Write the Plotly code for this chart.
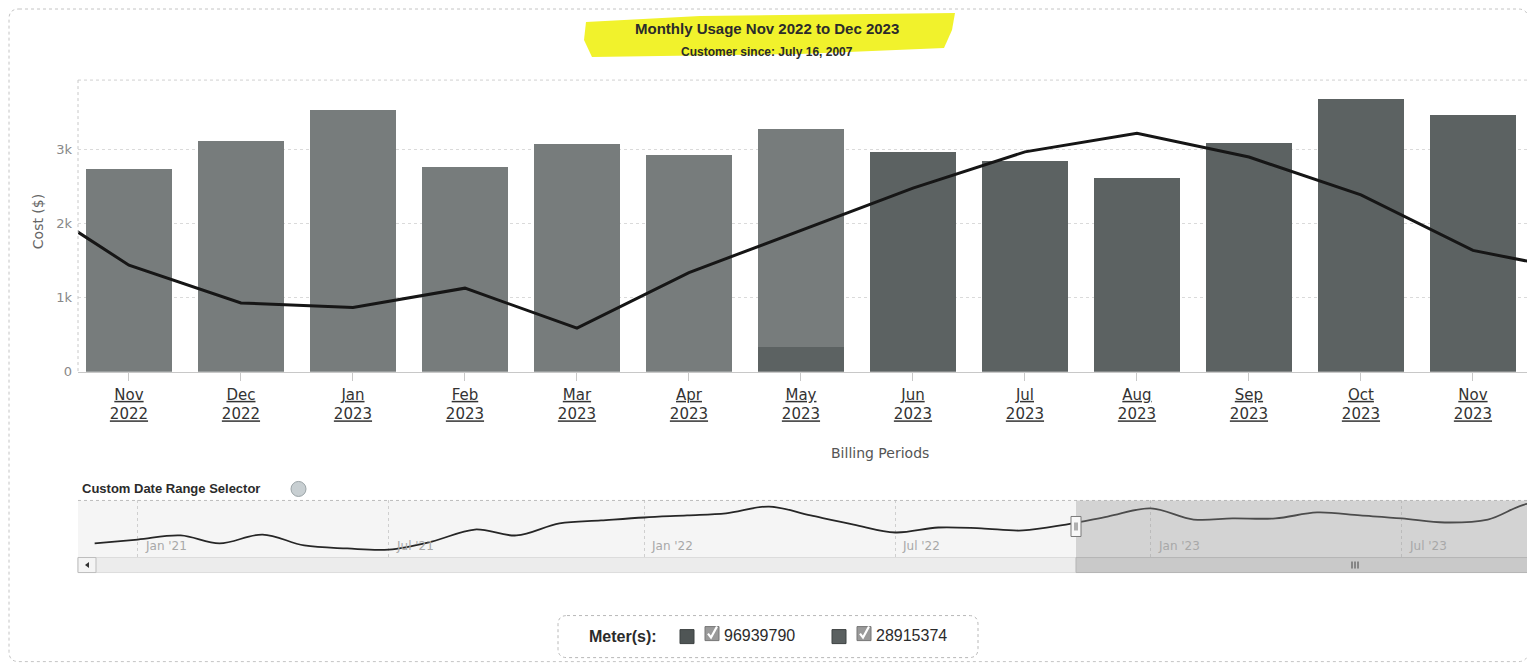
import plotly.graph_objects as go

# ---------------- data ----------------
months = ["Nov<br>2022", "Dec<br>2022", "Jan<br>2023", "Feb<br>2023", "Mar<br>2023", "Apr<br>2023",
          "May<br>2023", "Jun<br>2023", "Jul<br>2023", "Aug<br>2023", "Sep<br>2023", "Oct<br>2023",
          "Nov<br>2023"]
meter_a_name = "96939790"
meter_b_name = "28915374"
meter_a_cost = [2740, 3110, 3540, 2760, 3070, 2930, 2950, 0, 0, 0, 0, 0, 0]
meter_b_cost = [0, 0, 0, 0, 0, 0, 330, 2970, 2850, 2620, 3090, 3690, 3470]
# trend line (Oct 2022 .. Dec 2023, the outer points run past the plot edges)
line_x = list(range(-1, 14))
line_vals = [2420, 1440, 930, 870, 1130, 590, 1340, 1910, 2480, 2970, 3220, 2900, 2390, 1640, 1340]

y_tickvals = [0, 1000, 2000, 3000]
y_ticktext = ["0", "1k", "2k", "3k"]

nav_dates = ["2020-12-01", "2021-01-01", "2021-02-01", "2021-03-01", "2021-04-01", "2021-05-01",
             "2021-06-01", "2021-07-01", "2021-08-01", "2021-09-01", "2021-10-01", "2021-11-01",
             "2021-12-01", "2022-01-01", "2022-02-01", "2022-03-01", "2022-04-01", "2022-05-01",
             "2022-06-01", "2022-07-01", "2022-08-01", "2022-09-01", "2022-10-01", "2022-11-01",
             "2022-12-01", "2023-01-01", "2023-02-01", "2023-03-01", "2023-04-01", "2023-05-01",
             "2023-06-01", "2023-07-01", "2023-08-01", "2023-09-01", "2023-10-01", "2023-11-01"]
nav_vals = [1570, 1780, 2000, 1570, 2050, 1460, 1300, 1240, 1670, 2320, 2000, 2650,
            2810, 2970, 3080, 3190, 3560, 3080, 2590, 2160, 2430, 2380, 2270, 2590,
            3020, 3460, 2860, 2920, 2920, 3240, 3080, 2920, 2700, 2860, 3730, 3470]
nav_tick_dates = ["2021-01-01", "2021-07-01", "2022-01-01", "2022-07-01", "2023-01-01", "2023-07-01"]
nav_tick_text = ["Jan '21", "Jul '21", "Jan '22", "Jul '22", "Jan '23", "Jul '23"]

# ---------------- helpers (page pixel -> paper) ----------------
OFF = 8                      # body margin of the html page
VS = 0.987                   # measured vertical compression of the capture
W, H = 1535 - OFF, 671 - OFF
L = 78 - OFF                 # plot left edge (figure px)
R = 0                        # plot right edge at page x=1535
PW = W - L - R


def px(x):
    return (x - OFF - L) / PW


def py(y):
    return 1 - (y - OFF) / VS / H


fig = go.Figure()

fig.add_trace(go.Bar(x=list(range(len(months))), y=meter_b_cost, name=meter_b_name,
                     marker=dict(color="#5c6262", line=dict(width=0)), width=0.77,
                     xaxis="x", yaxis="y"))
fig.add_trace(go.Bar(x=list(range(len(months))), y=meter_a_cost, name=meter_a_name,
                     marker=dict(color="#777c7c", line=dict(width=0)), width=0.77,
                     xaxis="x", yaxis="y"))
fig.add_trace(go.Scatter(x=line_x, y=line_vals, mode="lines", name="Usage",
                         line=dict(color="#161616", width=3), xaxis="x", yaxis="y2"))

fig.add_trace(go.Scatter(x=nav_dates, y=nav_vals, mode="lines", name="Navigator",
                         line=dict(color="#262626", width=1.8, shape="spline", smoothing=1.0),
                         xaxis="x2", yaxis="y3"))

main_dom = [py(371.5), py(80)]
nav_dom = [py(572), py(500)]
yr = [0, (371.5 - 80) / 74 * 1000]

fig.update_layout(
    width=W, height=H,
    margin=dict(l=L, r=R, t=0, b=0, pad=0),
    paper_bgcolor="white", plot_bgcolor="white",
    barmode="stack", showlegend=False,
    font=dict(family="DejaVu Sans", color="#333"),
    xaxis=dict(domain=[0, 1], range=[-0.455, 12.554], tickvals=list(range(len(months))),
               ticktext=months, ticks="outside", ticklen=8, tickcolor="#c8c8c8",
               ticklabelstandoff=1,
               tickfont=dict(family="DejaVu Sans", size=15, color="#333", lineposition="under"),
               showgrid=False, zeroline=False, showline=True, linecolor="#c8c8c8", linewidth=1,
               anchor="y", fixedrange=True),
    yaxis=dict(domain=main_dom, range=yr, tickvals=y_tickvals, ticktext=y_ticktext,
               tickfont=dict(family="DejaVu Sans", size=13, color="#888"),
               ticklabelstandoff=5,
               showgrid=True, gridcolor="#dadada", griddash="dot", zeroline=False,
               showline=False, ticks="", anchor="x"),
    yaxis2=dict(domain=main_dom, range=yr, overlaying="y", visible=False, anchor="x"),
    xaxis2=dict(domain=[0, 1], type="date", range=["2020-11-19", "2023-10-05"],
                anchor="y3", showticklabels=False, ticks="",
                tick0="2021-01-01", dtick="M6", showgrid=True, gridcolor="#cfcfcf",
                griddash="dot", zeroline=False, showline=False),
    yaxis3=dict(domain=nav_dom, range=[0, 72 * 54], visible=False, anchor="x2"),
)


def rounded(x0, y0, x1, y1, r):
    return (f"M {px(x0 + r)} {py(y0)} L {px(x1 - r)} {py(y0)} Q {px(x1)} {py(y0)} {px(x1)} {py(y0 + r)} "
            f"L {px(x1)} {py(y1 - r)} Q {px(x1)} {py(y1)} {px(x1 - r)} {py(y1)} "
            f"L {px(x0 + r)} {py(y1)} Q {px(x0)} {py(y1)} {px(x0)} {py(y1 - r)} "
            f"L {px(x0)} {py(y0 + r)} Q {px(x0)} {py(y0)} {px(x0 + r)} {py(y0)} Z")


shapes = []
# outer rounded frame
shapes.append(dict(type="path", path=rounded(9, 9, 1528, 661, 10), xref="paper", yref="paper",
                   line=dict(color="#c4c4c4", width=1, dash="dot"), layer="below"))
# yellow highlighter behind title
hl = [(586, 22), (700, 16), (955, 13), (952, 30), (944, 48), (800, 54), (592, 57), (584, 40)]
hl_path = "M " + " L ".join(f"{px(a)} {py(b)}" for a, b in hl) + " Z"
shapes.append(dict(type="path", path=hl_path, xref="paper", yref="paper",
                   fillcolor="#f1f22c", line=dict(width=0), layer="below"))
# main plot top border and left border (dotted)
shapes.append(dict(type="line", xref="paper", yref="paper", x0=0, x1=1, y0=py(80), y1=py(80),
                   line=dict(color="#d0d0d0", width=1, dash="dot")))
shapes.append(dict(type="line", xref="paper", yref="paper", x0=0, x1=0, y0=py(80), y1=py(371.5),
                   line=dict(color="#c8c8c8", width=1, dash="dot")))
# navigator background
shapes.append(dict(type="rect", xref="paper", yref="paper", x0=0, x1=1, y0=py(557), y1=py(500),
                   fillcolor="#f5f5f5", line=dict(width=0), layer="below"))
shapes.append(dict(type="line", xref="paper", yref="paper", x0=0, x1=1, y0=py(500), y1=py(500),
                   line=dict(color="#bdbdbd", width=1, dash="dot")))
# scrollbar track
shapes.append(dict(type="rect", xref="paper", yref="paper", x0=0, x1=1, y0=py(572), y1=py(557),
                   fillcolor="#ececec", line=dict(color="#dcdcdc", width=1)))
# selected navigator range
shapes.append(dict(type="rect", xref="paper", yref="paper", x0=px(1076), x1=1, y0=py(557), y1=py(500),
                   fillcolor="rgba(150,150,150,0.35)", line=dict(width=0)))
# scrollbar thumb
shapes.append(dict(type="rect", xref="paper", yref="paper", x0=px(1076), x1=1, y0=py(572), y1=py(557),
                   fillcolor="#c9c9c9", line=dict(color="#b5b5b5", width=1)))
# scrollbar left button
shapes.append(dict(type="rect", xref="paper", yref="paper", x0=px(78), x1=px(96), y0=py(572), y1=py(557),
                   fillcolor="#f4f4f4", line=dict(color="#bdbdbd", width=1)))
tri = f"M {px(85)} {py(564.5)} L {px(89)} {py(561.5)} L {px(89)} {py(567.5)} Z"
shapes.append(dict(type="path", path=tri, xref="paper", yref="paper", fillcolor="#333", line=dict(width=0)))
# navigator handle
shapes.append(dict(type="rect", xref="paper", yref="paper", x0=px(1071), x1=px(1081), y0=py(536), y1=py(516),
                   fillcolor="#f8f8f8", line=dict(color="#7a7a7a", width=1)))
for hx in (1075, 1077):
    shapes.append(dict(type="line", xref="paper", yref="paper", x0=px(hx), x1=px(hx), y0=py(530), y1=py(522),
                       line=dict(color="#666", width=1)))
for tx in (1352, 1355, 1358):
    shapes.append(dict(type="line", xref="paper", yref="paper", x0=px(tx), x1=px(tx), y0=py(568), y1=py(561),
                       line=dict(color="#444", width=1)))
# help icon next to "Custom Date Range Selector"
shapes.append(dict(type="circle", xref="paper", yref="paper", x0=px(291), x1=px(306), y0=py(496), y1=py(481),
                   fillcolor="#c8cfd2", line=dict(color="#9aa3a6", width=1)))
# legend box
shapes.append(dict(type="path", path=rounded(558, 615, 978, 657, 9), xref="paper", yref="paper",
                   fillcolor="white", line=dict(color="#b8b8b8", width=1, dash="dot")))
# legend colour squares and checkboxes
for sq_x, col in ((680, "#4f5555"), (832, "#5a6060")):
    shapes.append(dict(type="rect", xref="paper", yref="paper", x0=px(sq_x), x1=px(sq_x + 14),
                       y0=py(643), y1=py(629), fillcolor=col, line=dict(color="#3d4242", width=1)))
for cb_x in (705, 857):
    shapes.append(dict(type="rect", xref="paper", yref="paper", x0=px(cb_x), x1=px(cb_x + 14),
                       y0=py(640), y1=py(626), fillcolor="#9a9a9a", line=dict(color="#777", width=1)))
    chk = f"M {px(cb_x + 3)} {py(633)} L {px(cb_x + 6)} {py(637)} L {px(cb_x + 12)} {py(626)}"
    shapes.append(dict(type="path", path=chk, xref="paper", yref="paper",
                       line=dict(color="white", width=2.2)))

fig.update_layout(shapes=shapes)

ann = []
ann.append(dict(text="<b>Monthly Usage Nov 2022 to Dec 2023</b>", x=px(767), y=py(28), xref="paper", yref="paper",
                showarrow=False, xanchor="center", yanchor="middle",
                font=dict(family="Liberation Sans", size=15, color="#2b2b2b")))
ann.append(dict(text="<b>Customer since: July 16, 2007</b>", x=px(767), y=py(52), xref="paper", yref="paper",
                showarrow=False, xanchor="center", yanchor="middle",
                font=dict(family="Liberation Sans", size=12, color="#2b2b2b")))
ann.append(dict(text="Cost ($)", x=px(38), y=py(222), xref="paper", yref="paper", textangle=-90,
                showarrow=False, xanchor="center", yanchor="middle",
                font=dict(family="DejaVu Sans", size=14, color="#666")))
ann.append(dict(text="Billing Periods", x=px(880), y=py(453), xref="paper", yref="paper",
                showarrow=False, xanchor="center", yanchor="middle",
                font=dict(family="DejaVu Sans", size=14, color="#555")))
ann.append(dict(text="<b>Custom Date Range Selector</b>", x=px(80), y=py(488), xref="paper", yref="paper",
                showarrow=False, xanchor="left", yanchor="middle",
                font=dict(family="Liberation Sans", size=13, color="#2b2b2b")))
for d, t in zip(nav_tick_dates, nav_tick_text):
    ann.append(dict(text=t, x=d, y=py(545), xref="x2", yref="paper", xshift=5,
                    showarrow=False, xanchor="left", yanchor="middle",
                    font=dict(family="DejaVu Sans", size=12, color="#a8a8a8")))
ann.append(dict(text="<b>Meter(s):</b>", x=px(587), y=py(636), xref="paper", yref="paper",
                showarrow=False, xanchor="left", yanchor="middle",
                font=dict(family="Liberation Sans", size=16, color="#2b2b2b")))
for tx, t in ((722, meter_a_name), (874, meter_b_name)):
    ann.append(dict(text=t, x=px(tx), y=py(635), xref="paper", yref="paper",
                    showarrow=False, xanchor="left", yanchor="middle",
                    font=dict(family="Liberation Sans", size=16, color="#2b2b2b")))
fig.update_layout(annotations=ann)

fig.write_html("out.html")
